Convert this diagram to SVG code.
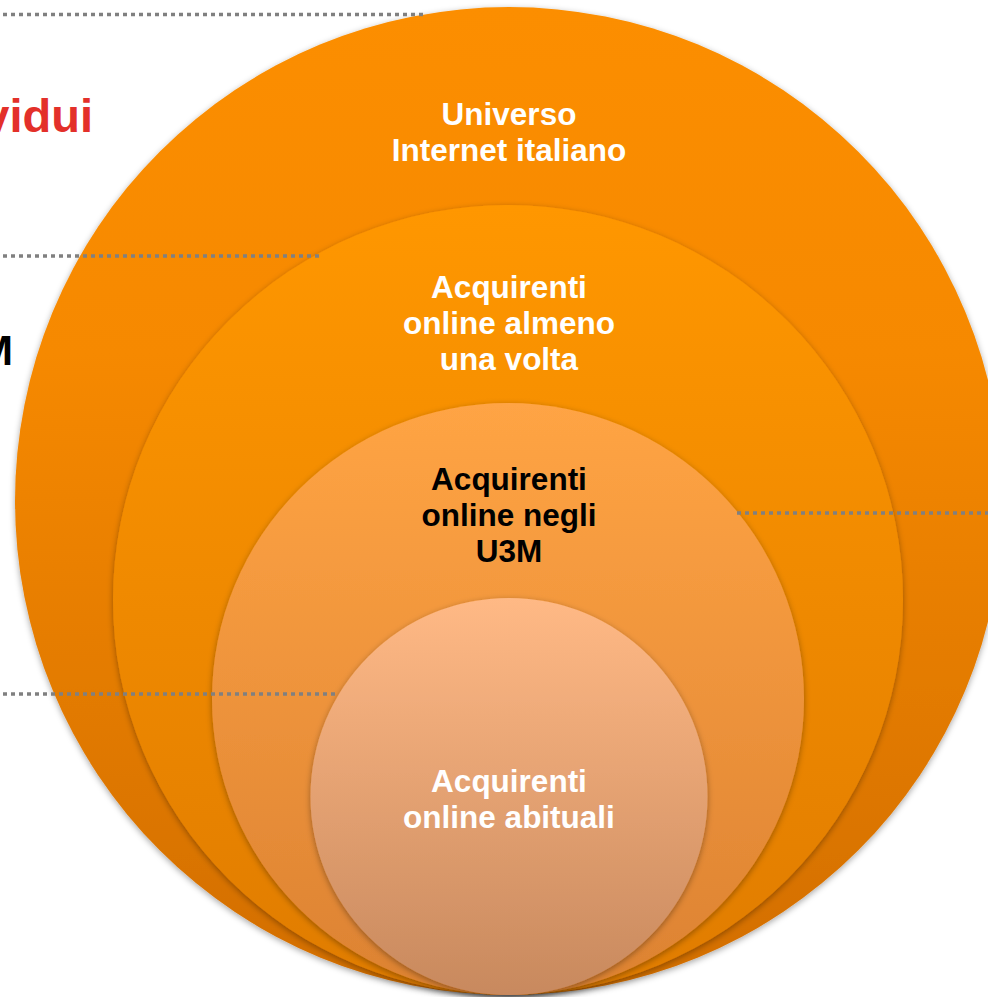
<svg xmlns="http://www.w3.org/2000/svg" width="988" height="997" viewBox="0 0 988 997">
  <defs>
    <linearGradient id="g1" x1="0" y1="0" x2="0" y2="1">
      <stop offset="0" stop-color="#fc8e00"/>
      <stop offset="0.35" stop-color="#f68900"/>
      <stop offset="1" stop-color="#d26e00"/>
    </linearGradient>
    <linearGradient id="g2" x1="0" y1="0" x2="0" y2="1">
      <stop offset="0" stop-color="#ff9700"/>
      <stop offset="1" stop-color="#e07c00"/>
    </linearGradient>
    <linearGradient id="g3" x1="0" y1="0" x2="0" y2="1">
      <stop offset="0" stop-color="#ffa444"/>
      <stop offset="1" stop-color="#dc8232"/>
    </linearGradient>
    <linearGradient id="g4" x1="0" y1="0" x2="0" y2="1">
      <stop offset="0" stop-color="#ffb985"/>
      <stop offset="1" stop-color="#c8895e"/>
    </linearGradient>
    <filter id="shadow" x="-10%" y="-10%" width="120%" height="120%">
      <feDropShadow dx="0" dy="2" stdDeviation="3" flood-color="#000" flood-opacity="0.35"/>
    </filter>
  </defs>
  <style>
    .lbl { font-family: "Liberation Sans", Arial, sans-serif; font-weight: bold; font-size: 31.5px; text-anchor: middle; }
    .white { fill: #ffffff; }
    .dark { fill: #000000; }
    .guide { stroke: #808080; stroke-width: 3.5; stroke-dasharray: 4 4; fill: none; }
    .side { font-family: "Liberation Sans", Arial, sans-serif; font-weight: bold; text-anchor: end; }
  </style>
  <rect width="988" height="997" fill="#ffffff"/>

  <!-- side labels, running off the left edge -->
  <text class="side" x="93" y="132" font-size="47" fill="#e3302a">vidui</text>
  <text class="side" x="13" y="365" font-size="43" fill="#000000">M</text>

  <!-- nested circles, tangent at the bottom -->
  <g id="universo">
    <circle cx="509" cy="501" r="494" fill="url(#g1)" filter="url(#shadow)"/>
    <text class="lbl white" x="509" y="125">Universo</text>
    <text class="lbl white" x="509" y="161">Internet italiano</text>
  </g>
  <g id="almeno-una-volta">
    <circle cx="508" cy="600" r="395" fill="url(#g2)" filter="url(#shadow)"/>
    <text class="lbl white" x="509" y="298">Acquirenti</text>
    <text class="lbl white" x="509" y="334">online almeno</text>
    <text class="lbl white" x="509" y="370">una volta</text>
  </g>
  <g id="u3m">
    <circle cx="508" cy="699" r="296" fill="url(#g3)" filter="url(#shadow)"/>
    <text class="lbl dark" x="509" y="490">Acquirenti</text>
    <text class="lbl dark" x="509" y="526">online negli</text>
    <text class="lbl dark" x="509" y="562">U3M</text>
  </g>
  <g id="abituali">
    <circle cx="509" cy="796.5" r="198.5" fill="url(#g4)" filter="url(#shadow)"/>
    <text class="lbl white" x="509" y="792">Acquirenti</text>
    <text class="lbl white" x="509" y="828">online abituali</text>
  </g>

  <!-- dotted guide lines -->
  <g id="connectors">
    <line class="guide" x1="3" y1="14.5" x2="423" y2="14.5"/>
    <line class="guide" x1="3" y1="256" x2="321" y2="256"/>
    <line class="guide" x1="3" y1="694" x2="337" y2="694"/>
    <line class="guide" x1="737" y1="513" x2="988" y2="513"/>
  </g>
</svg>
